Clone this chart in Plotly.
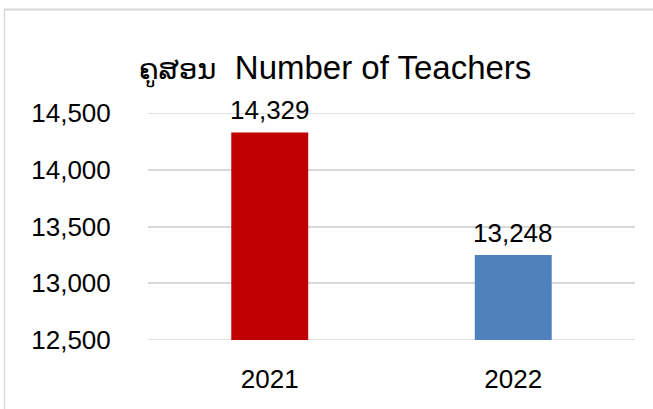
import plotly.graph_objects as go

categories = ["2021", "2022"]
teachers = [14329, 13248]
bar_colors = ["#C00000", "#4F81BD"]
y_min, y_max, y_step = 12500, 14500, 500
title_lao = "ຄູສອນ"
title_en = "Number of Teachers"

FONT = "Liberation Sans, Arial, DejaVu Sans, sans-serif"
GRID = "#D9D9D9"

fig = go.Figure(
    go.Bar(
        x=categories,
        y=teachers,
        marker=dict(color=bar_colors, line=dict(width=0)),
        width=0.316,
        hoverinfo="skip",
    )
)

for i, v in enumerate(teachers):
    fig.add_annotation(
        x=i, y=v, xref="x", yref="y", text=f"{v:,d}", showarrow=False,
        yanchor="bottom", yshift=5,
        font=dict(size=26, family=FONT, color="#000000"),
    )

# gridlines at the range ends (plotly hides grid lines on the plot edges)
edge_lines = [
    dict(type="line", xref="paper", yref="y", x0=0, x1=1, y0=yv, y1=yv,
         line=dict(color=GRID, width=1.5), layer="below")
    for yv in (y_min, y_max)
]

fig.update_layout(
    width=653,
    height=409,
    margin=dict(l=148, r=18, t=113, b=69),
    paper_bgcolor="white",
    plot_bgcolor="white",
    showlegend=False,
    font=dict(family=FONT, size=26, color="#000000"),
    title=dict(
        text=f'<span style="font-size:29px">{title_lao}</span>\u00a0\u00a0{title_en}',
        font=dict(size=33, family=FONT, color="#000000"),
        xref="paper",
        x=0.384,
        xanchor="center",
        yref="container",
        y=0.834,
        yanchor="middle",
    ),
    xaxis=dict(
        type="category",
        range=[-0.5, 1.5],
        showgrid=False,
        showline=False,
        zeroline=False,
        ticks="outside",
        ticklen=16,
        tickcolor="rgba(0,0,0,0)",
        tickfont=dict(size=26, family=FONT, color="#000000"),
    ),
    yaxis=dict(
        range=[y_min, y_max],
        tick0=y_min,
        dtick=y_step,
        tickformat=",d",
        showgrid=True,
        gridcolor=GRID,
        gridwidth=1.5,
        zeroline=False,
        showline=False,
        ticks="outside",
        ticklen=31,
        tickcolor="rgba(0,0,0,0)",
        tickfont=dict(size=26, family=FONT, color="#000000"),
    ),
    shapes=edge_lines + [
        dict(type="line", xref="paper", yref="paper",
             x0=(4 - 148) / 487, x1=1.2, y0=(340 - 9.5) / 227, y1=(340 - 9.5) / 227,
             line=dict(color=GRID, width=2)),
        dict(type="line", xref="paper", yref="paper",
             x0=(4.5 - 148) / 487, x1=(4.5 - 148) / 487, y0=(340 - 9.5) / 227, y1=-0.5,
             line=dict(color=GRID, width=1.5)),
    ],
)

fig.write_html(
    "out.html",
    config={"displayModeBar": False},
    post_script="document.body.style.margin='0';",
)
